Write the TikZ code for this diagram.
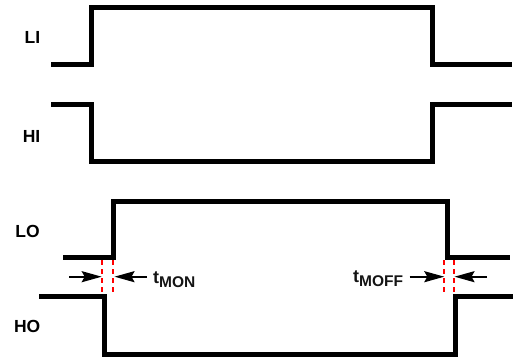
\documentclass[tikz,border=0pt]{standalone}
\usepackage{fontspec}
\setmainfont{Liberation Sans}
\usetikzlibrary{arrows.meta}
\begin{document}
\begin{tikzpicture}[x=1pt,y=-1pt,
  wave/.style={line width=5pt, line join=miter},
  sig/.style={font=\fontsize{17.5}{20}\selectfont\bfseries, anchor=east, inner sep=0pt},
  tlabel/.style={anchor=base west, inner sep=0pt, font=\bfseries, text=black!92},
  guide/.style={red, line width=2pt, dash pattern=on 5pt off 4pt},
  meas/.style={line width=2pt, -{Stealth[length=20pt,width=11pt,inset=3pt]}}
]
\useasboundingbox (0,0) rectangle (513,358);
% signal labels
\node[sig] (li) at (40.5,37.5) {LI};
\node[sig] (hi) at (40.5,136) {HI};
\node[sig] (lo) at (40,231) {LO};
\node[sig] (ho) at (40.5,326) {HO};
% waveforms
\draw[wave] (51,64.8) -- (91.8,64.8) -- (91.8,7.5) -- (432.7,7.5) -- (432.7,64.8) -- (512,64.8);
\draw[wave] (51,105) -- (91.8,105) -- (91.8,161.6) -- (432.5,161.6) -- (432.5,105) -- (512,105);
\draw[wave] (63,257.7) -- (113.6,257.7) -- (113.6,201.7) -- (447.5,201.7) -- (447.5,257.7) -- (510,257.7);
\draw[wave] (39,296.7) -- (104.3,296.7) -- (104.3,354) -- (455.2,354) -- (455.2,296.7) -- (513,296.7);
% dead-time guides
\coordinate (g1t) at (101.7,260.2); \coordinate (g1b) at (101.7,294.2);
\coordinate (g2t) at (113.3,260.2); \coordinate (g2b) at (113.3,294.2);
\coordinate (g3t) at (444.3,260.2); \coordinate (g3b) at (444.3,294.2);
\coordinate (g4t) at (453.9,260.2); \coordinate (g4b) at (453.9,294.2);
\draw[guide] (g1t) -- (g1b);
\draw[guide] (g2t) -- (g2b);
\draw[guide] (g3t) -- (g3b);
\draw[guide] (g4t) -- (g4b);
% measurement arrows
\coordinate (a1) at (69,276.7);   \coordinate (e1) at (101.7,276.7);
\coordinate (a2) at (147,276.7);  \coordinate (e2) at (114.5,276.7);
\coordinate (a3) at (409.5,276.7); \coordinate (e3) at (444.3,276.7);
\coordinate (a4) at (487,276.7);  \coordinate (e4) at (454.5,276.7);
\draw[meas] (a1) -- (e1);
\draw[meas] (a2) -- (e2);
\draw[meas] (a3) -- (e3);
\draw[meas] (a4) -- (e4);
% timing labels
\node[tlabel] (tmon) at (153,283) {\fontsize{18}{20}\selectfont t\raisebox{-4pt}{\fontsize{15.5}{18}\selectfont MON}};
\node[tlabel] (tmoff) at (353,282.7) {\fontsize{18}{20}\selectfont t\raisebox{-4pt}{\fontsize{15.5}{18}\selectfont MOFF}};
\end{tikzpicture}
\end{document}
